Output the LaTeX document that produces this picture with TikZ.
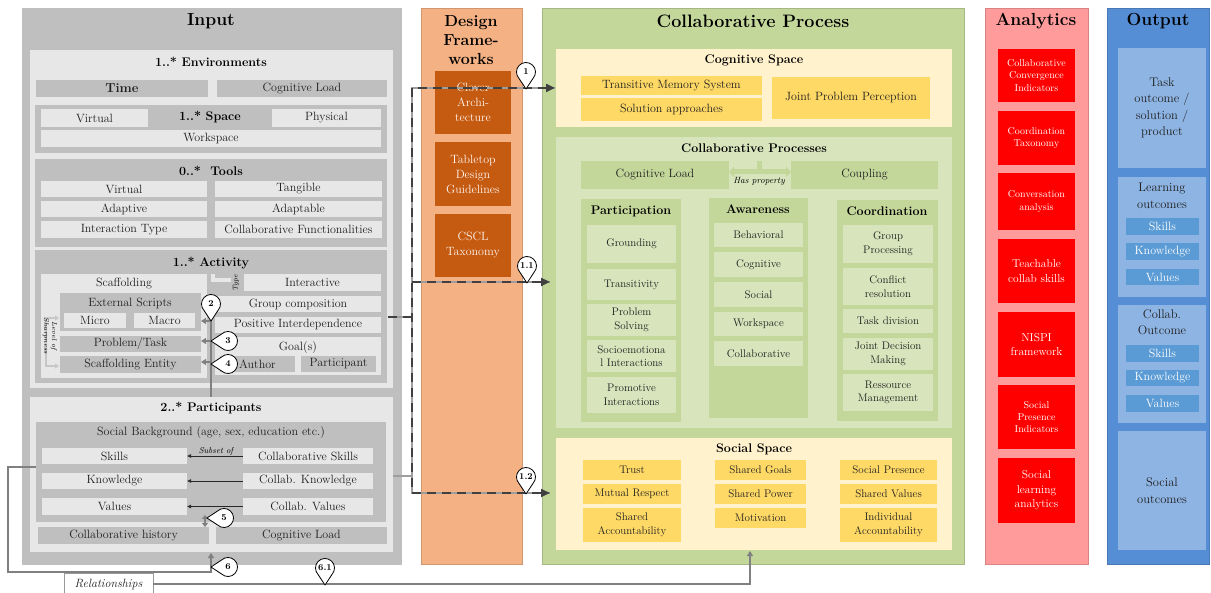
\documentclass[tikz,border=0pt]{standalone}
\usetikzlibrary{fit,arrows.meta}
\newcommand{\fsz}[2]{\fontsize{#1}{#2}\selectfont}
\newcommand{\mybox}[7]{\node[#2, fit={(#3,#4) (#5,#6)}] (#1) {};
  \node[#2, fill=none, draw=none] (#1-t) at (#1.center) {#7};}
\newcommand{\pinmark}[5]{%
  \begin{scope}[shift={(#2,#3)}, rotate=#4]
    \draw[pinshape] (17pt,0pt) -- (48:9.5pt) arc[start angle=48, end angle=312, radius=9.5pt] -- cycle;
  \end{scope}
  \node[pinlabel] (#1) at (#2,#3) {#5};}
\definecolor{inbg}{HTML}{BFBFBF}
\definecolor{inlt}{HTML}{E7E7E7}
\definecolor{indk}{HTML}{BFBFBF}
\definecolor{dfbg}{HTML}{F4B183}
\definecolor{dfbx}{HTML}{C55A11}
\definecolor{cpbg}{HTML}{C4D79B}
\definecolor{cplt}{HTML}{D8E4BC}
\definecolor{cspc}{HTML}{FFF2CC}
\definecolor{cyel}{HTML}{FFD966}
\definecolor{anbg}{HTML}{FF9B9B}
\definecolor{anbx}{HTML}{FF0000}
\definecolor{oubg}{HTML}{558ED5}
\definecolor{oubx}{HTML}{8EB4E3}
\definecolor{ousb}{HTML}{5B9BD5}
\tikzset{
  bx/.style={inner sep=0pt, outer sep=0pt, align=center, text=black!88, font=\fsz{12}{14}},
  lt/.style={bx, fill=inlt},
  dk/.style={bx, fill=indk},
  panel/.style={bx, line width=0.6pt},
  ttl/.style={inner sep=0pt, align=center, font=\bfseries\fsz{12.5}{15}},
  bigttl/.style={inner sep=0pt, align=center, font=\bfseries\fsz{17.5}{21}},
  dfb/.style={bx, fill=dfbx, text=white!94!orange, font=\fsz{12}{15}},
  yel/.style={bx, fill=cyel, font=\fsz{12}{14}},
  syel/.style={bx, fill=cyel, font=\fsz{11}{13.5}},
  gcol/.style={bx, fill=cpbg},
  gitem/.style={bx, fill=cplt, font=\fsz{11}{13.5}},
  gdk/.style={bx, fill=cpbg, font=\fsz{12}{14}},
  redb/.style={bx, fill=anbx, text=white, font=\fsz{10}{12.3}},
  redB/.style={bx, fill=anbx, text=white, font=\fsz{11.5}{14.5}},
  oub/.style={bx, fill=oubx, font=\fsz{12.5}{16.5}},
  osb/.style={bx, fill=ousb, text=white, font=\fsz{12}{14}},
  gl/.style={draw=black!50, line width=2pt},
  nbase/.style={draw=black!38, line width=2.6pt},
  ndash/.style={draw=black!75, line width=2.6pt, dash pattern=on 9pt off 6pt},
  pinshape/.style={draw=black, fill=white, line width=0.8pt, line join=round},
  pinlabel/.style={inner sep=0pt, font=\bfseries\fsz{9}{10}},
  smalllab/.style={inner sep=0pt, font=\itshape\fsz{9}{10}},
  hpl/.style={draw=cpbg, line width=5pt},
  ltl/.style={draw=black!22, line width=2.5pt},
  tri/.style={-{Triangle[length=5pt,width=6pt]}},
}
\begin{document}
\begin{tikzpicture}[x=1pt,y=-1pt]
\useasboundingbox (0,0) rectangle (1211,593);
% ================= INPUT =================
\mybox{input}{panel,fill=inbg,draw=black!25}{22}{8}{401}{564}{}
\node[bigttl] (inputT) at (211,21) {Input};
\mybox{env}{lt}{30}{50}{393}{388}{}
\node[ttl] (envT) at (211,62) {1..* Environments};
\mybox{time}{dk,font=\bfseries\fsz{13}{15}}{36}{80}{208}{97}{Time}
\mybox{envcl}{dk}{217}{80}{387}{97}{Cognitive Load}
\mybox{space}{dk}{35}{105}{387}{153}{}
\mybox{svirt}{lt}{41}{109}{148}{127}{Virtual}
\node[ttl] (spaceT) at (210,117) {1..* Space};
\mybox{sphys}{lt}{272}{109}{381}{127}{Physical}
\mybox{swork}{lt}{41}{130}{381}{147}{Workspace}
\mybox{tools}{dk}{35}{159}{387}{247}{}
\node[ttl] (toolsT) at (211,171) {0..*\ \ Tools};
\mybox{tvirt}{lt}{41}{181}{207}{197}{Virtual}
\mybox{ttang}{lt}{215}{181}{382}{197}{Tangible}
\mybox{tadpv}{lt}{41}{201}{207}{217}{Adaptive}
\mybox{tadpb}{lt}{215}{201}{382}{217}{Adaptable}
\mybox{tinter}{lt}{41}{221}{207}{238}{Interaction Type}
\mybox{tcoll}{lt}{215}{221}{382}{238}{Collaborative Functionalities}
\mybox{act}{dk}{35}{250}{387}{383}{}
\node[ttl] (actT) at (211,263) {1..* Activity};
\mybox{scaf}{lt}{41}{274}{207}{378}{}
\node[bx] (scafT) at (124,284) {Scaffolding};
\mybox{ext}{dk}{60}{293}{201}{331}{}
\node[bx] (extT) at (130,303) {External Scripts};
\mybox{micro}{lt}{64}{313}{126}{328}{Micro}
\mybox{macro}{lt}{134}{313}{195}{328}{Macro}
\mybox{prob}{dk}{60}{336}{201}{352}{Problem/Task}
\mybox{sent}{dk}{60}{356}{201}{373}{Scaffolding Entity}
\mybox{inter}{lt}{244}{274}{381}{291}{Interactive}
\mybox{grp}{lt}{215}{296}{381}{312}{Group composition}
\mybox{posi}{lt}{215}{317}{381}{333}{Positive Interdependence}
\mybox{goal}{lt}{215}{337}{381}{375}{}
\node[bx] (goalT) at (298,348) {Goal(s)};
\mybox{auth}{dk}{220}{356}{295}{372}{Author}
\mybox{partc}{dk}{301}{356}{376}{372}{Participant}
% level of sharpness bracket
\coordinate (lv1) at (59,318); \coordinate (lv2) at (46,318);
\coordinate (lv3) at (46,366); \coordinate (lv4) at (59,366);
\draw[ltl,{Triangle[length=4pt,width=5pt]}-{Triangle[length=4pt,width=5pt]}] (lv1) -- (lv2) -- (lv3) -- (lv4);
\node[rotate=-90, inner sep=0pt, align=center, font=\itshape\fsz{7}{8}] (lvl) at (50,336) {Level of\\Sharpness};
% type connector
\coordinate (ty1) at (213,274); \coordinate (ty2) at (213,280); \coordinate (ty3) at (231,280);
\draw[draw=inlt, line width=3.5pt] (ty1) -- (ty2) -- (ty3);
\node[rotate=90, inner sep=0pt, font=\itshape\fsz{7}{8}] (typeT) at (236,283) {Type};
% participants
\mybox{parts}{lt}{30}{397}{393}{552}{}
\node[ttl] (partsT) at (211,408) {2..* Participants};
\mybox{socbg}{dk}{36}{422}{386}{522}{}
\node[bx] (socbgT) at (211,433) {Social Background (age, sex, education etc.)};
\mybox{skills}{lt}{42}{448}{187}{464}{Skills}
\mybox{cskills}{lt}{243}{448}{373}{464}{Collaborative Skills}
\mybox{know}{lt}{42}{473}{187}{489}{Knowledge}
\mybox{cknow}{lt}{243}{473}{373}{489}{Collab. Knowledge}
\mybox{vals}{lt}{42}{498}{187}{515}{Values}
\mybox{cvals}{lt}{243}{498}{373}{515}{Collab. Values}
\mybox{chist}{dk}{38}{527}{209}{544}{Collaborative history}
\mybox{pcl}{dk}{216}{527}{387}{544}{Cognitive Load}
\draw[black!85, line width=0.7pt, -{Latex[length=4pt,width=4pt]}] (cskills.west) -- (skills.east);
\draw[black!85, line width=0.7pt, -{Latex[length=4pt,width=4pt]}] (cknow.west) -- (know.east);
\draw[black!85, line width=0.7pt, -{Latex[length=4pt,width=4pt]}] (cvals.west) -- (vals.east);
\node[smalllab, font=\itshape\fsz{8.5}{9}] (subset) at (216,451) {Subset of};
% ================= DESIGN FRAMEWORKS =================
\mybox{df}{panel,fill=dfbg,draw=dfbg!85!black}{421}{8}{522}{564}{}
\node[bigttl, font=\bfseries\fsz{16}{19}] (dfT) at (471,40) {Design\\Frame-\\works};
\mybox{clover}{dfb}{435}{71}{511}{134}{Clover\\Archi-\\tecture}
\mybox{table}{dfb}{435}{142}{511}{206}{Tabletop\\Design\\Guidelines}
\mybox{cscl}{dfb}{435}{214}{511}{277}{CSCL\\Taxonomy}
% ================= COLLABORATIVE PROCESS =================
\mybox{cp}{panel,fill=cpbg,draw=cpbg!85!black}{542}{8}{964}{564}{}
\node[bigttl, font=\bfseries\fsz{18}{21}] (cpT) at (753,21) {Collaborative Process};
\mybox{cogsp}{bx,fill=cspc}{556}{49}{952}{127}{}
\node[ttl] (cogspT) at (754,60) {Cognitive Space};
\mybox{tms}{yel}{581}{76}{762}{95}{Transitive Memory System}
\mybox{sola}{yel}{581}{98}{762}{121}{Solution approaches}
\mybox{jpp}{yel}{772}{77}{930}{119}{Joint Problem Perception}
\mybox{cprocs}{bx,fill=cplt}{556}{137}{952}{428}{}
\node[ttl] (cprocsT) at (754,148) {Collaborative Processes};
\mybox{cpcl}{gdk}{581}{161}{729}{189}{Cognitive Load}
\mybox{coup}{gdk}{791}{161}{938}{189}{Coupling}
\coordinate (hp0) at (759,161); \coordinate (hp1) at (759,172);
\draw[hpl] (hp0) -- (hp1);
\draw[hpl, -{Triangle[length=5pt,width=10pt]}] (hp1) -- (cpcl.east |- hp1);
\draw[hpl, -{Triangle[length=5pt,width=10pt]}] (hp1) -- (coup.west |- hp1);
\node[smalllab] (hpT) at (759,181) {Has property};
% participation
\mybox{pcol}{gcol}{581}{199}{681}{422}{}
\node[ttl] (pcolT) at (631,211) {Participation};
\mybox{pground}{gitem}{587}{225}{676}{263}{Grounding}
\mybox{ptrans}{gitem}{587}{269}{676}{300}{Transitivity}
\mybox{pprob}{gitem}{587}{304}{676}{336}{Problem\\Solving}
\mybox{psocio}{gitem}{587}{340}{676}{372}{Socioemotiona\\l Interactions}
\mybox{pprom}{gitem}{587}{377}{676}{413}{Promotive\\Interactions}
% awareness
\mybox{acol}{gcol}{709}{198}{808}{418}{}
\node[ttl] (acolT) at (758,209) {Awareness};
\mybox{abeh}{gitem}{714}{223}{803}{247}{Behavioral}
\mybox{acog}{gitem}{714}{252}{803}{277}{Cognitive}
\mybox{asoc}{gitem}{714}{282}{803}{307}{Social}
\mybox{awork}{gitem}{714}{312}{803}{336}{Workspace}
\mybox{acoll}{gitem}{714}{341}{803}{366}{Collaborative}
% coordination
\mybox{ccol}{gcol}{837}{200}{938}{421}{}
\node[ttl] (ccolT) at (887,211) {Coordination};
\mybox{cgrp}{gitem}{843}{225}{933}{263}{Group\\Processing}
\mybox{cconf}{gitem}{843}{268}{933}{305}{Conflict\\resolution}
\mybox{ctask}{gitem}{843}{309}{933}{333}{Task division}
\mybox{cjoint}{gitem}{843}{338}{933}{370}{Joint Decision\\Making}
\mybox{cres}{gitem}{843}{374}{933}{411}{Ressource\\Management}
% social space
\mybox{socsp}{bx,fill=cspc}{556}{438}{952}{550}{}
\node[ttl] (socspT) at (754,449) {Social Space};
\mybox{strust}{syel}{583}{460}{681}{480}{Trust}
\mybox{smut}{syel}{583}{484}{681}{504}{Mutual Respect}
\mybox{sacc}{syel}{583}{508}{681}{542}{Shared\\Accountability}
\mybox{sgoal}{syel}{715}{460}{806}{480}{Shared Goals}
\mybox{spow}{syel}{715}{484}{806}{504}{Shared Power}
\mybox{smot}{syel}{715}{508}{806}{528}{Motivation}
\mybox{spres}{syel}{840}{460}{937}{480}{Social Presence}
\mybox{sval}{syel}{840}{484}{937}{504}{Shared Values}
\mybox{sind}{syel}{840}{508}{937}{542}{Individual\\Accountability}
% ================= ANALYTICS =================
\mybox{an}{panel,fill=anbg,draw=anbg!85!black}{985}{8}{1088}{564}{}
\node[bigttl] (anT) at (1036,21) {Analytics};
\mybox{an1}{redb}{998}{49}{1075}{102}{Collaborative\\Convergence\\Indicators}
\mybox{an2}{redb}{998}{111}{1075}{165}{Coordination\\Taxonomy}
\mybox{an3}{redb}{998}{173}{1075}{230}{Conversation\\analysis}
\mybox{an4}{redB}{998}{239}{1075}{303}{Teachable\\collab skills}
\mybox{an5}{redB}{998}{312}{1075}{377}{NISPI\\framework}
\mybox{an6}{redb}{998}{385}{1075}{449}{Social\\Presence\\Indicators}
\mybox{an7}{redB}{998}{458}{1075}{523}{Social\\learning\\analytics}
% ================= OUTPUT =================
\mybox{out}{panel,fill=oubg,draw=oubg!85!black}{1107}{8}{1209}{564}{}
\node[bigttl] (outT) at (1158,21) {Output};
\mybox{o1}{oub}{1118}{48}{1206}{168}{Task\\outcome /\\solution /\\product}
\mybox{o2}{oub}{1118}{177}{1206}{297}{}
\node[bx, font=\fsz{12.5}{16.5}] (o2T) at (1162,196) {Learning\\outcomes};
\mybox{o2a}{osb}{1126}{218}{1199}{235}{Skills}
\mybox{o2b}{osb}{1126}{243}{1199}{260}{Knowledge}
\mybox{o2c}{osb}{1126}{269}{1199}{285}{Values}
\mybox{o3}{oub}{1118}{305}{1206}{423}{}
\node[bx, font=\fsz{12.5}{16.5}] (o3T) at (1162,322) {Collab.\\Outcome};
\mybox{o3a}{osb}{1126}{345}{1199}{362}{Skills}
\mybox{o3b}{osb}{1126}{370}{1199}{386}{Knowledge}
\mybox{o3c}{osb}{1126}{395}{1199}{412}{Values}
\mybox{o4}{oub}{1118}{431}{1206}{550}{Social\\outcomes}
% ================= CONNECTORS =================
\coordinate (v0) at (211,397); \coordinate (v1) at (211,319);
\coordinate (m2) at (211,321); \coordinate (m3) at (211,341); \coordinate (m4) at (211,362);
\draw[gl] (v0) -- (v1);
\draw[gl,tri] (m2) -- (ext.east |- m2);
\draw[gl,tri] (m3) -- (prob.east |- m3);
\draw[gl,tri] (m4) -- (sent.east |- m4);
\coordinate (d5a) at (205,515); \coordinate (d5b) at (205,527);
\draw[gl,{Triangle[length=4pt,width=6pt]}-{Triangle[length=4pt,width=6pt]}] (d5a) -- (d5b);
\coordinate (r0) at (36,467); \coordinate (r1) at (8,467); \coordinate (r2) at (8,572);
\coordinate (r3) at (211,572); \coordinate (r4) at (211,553);
\draw[gl,tri] (r0) -- (r1) -- (r2) -- (r3) -- (r4);
\mybox{rel}{bx,fill=white,draw=black!40,font=\itshape\fsz{12}{14}}{64}{573}{153}{595}{Relationships}
\coordinate (s1) at (750,584); \coordinate (s2) at (750,551);
\draw[gl,tri] (rel.east |- s1) -- (s1) -- (s2);
\coordinate (a1) at (388,317); \coordinate (jA) at (412,317);
\coordinate (p1) at (393,476); \coordinate (jP) at (412,476);
\coordinate (j1) at (412,88); \coordinate (j2) at (412,282); \coordinate (j3) at (412,493);
\coordinate (e1) at (555,88); \coordinate (e2) at (550,282); \coordinate (e3) at (550,493);
\draw[nbase] (a1) -- (jA);
\draw[nbase] (p1) -- (jP);
\draw[nbase] (e1) -- (j1) -- (j3) -- (e3);
\draw[nbase] (j2) -- (e2);
\draw[ndash] (a1) -- (jA);
\draw[ndash,{Triangle[length=9pt,width=8pt]}-{Triangle[length=9pt,width=8pt]}] (e1) -- (j1) -- (j3) -- (e3);
\draw[ndash,-{Triangle[length=9pt,width=8pt]}] (j2) -- (e2);
% pins
\pinmark{pin1}{526}{72}{-90}{1}
\pinmark{pin11}{527}{266}{-90}{1.1}
\pinmark{pin12}{526}{477}{-90}{1.2}
\pinmark{pin2}{211}{304}{-90}{2}
\pinmark{pin3}{228}{341}{180}{3}
\pinmark{pin4}{228}{364}{180}{4}
\pinmark{pin5}{224}{518}{180}{5}
\pinmark{pin6}{228}{567}{180}{6}
\pinmark{pin61}{325}{568}{-90}{6.1}
\end{tikzpicture}
\end{document}
